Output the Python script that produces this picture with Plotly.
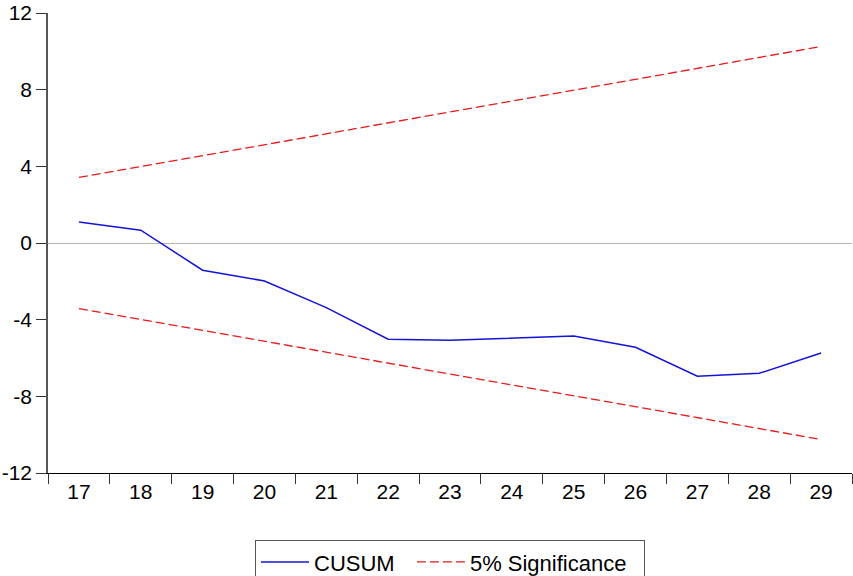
import plotly.graph_objects as go

periods = ["17", "18", "19", "20", "21", "22", "23", "24", "25", "26", "27", "28", "29"]
cusum = [1.10, 0.67, -1.42, -1.98, -3.37, -5.02, -5.07, -4.97, -4.85, -5.44, -6.95, -6.80, -5.74]
upper = [3.42, 3.99, 4.56, 5.13, 5.70, 6.27, 6.84, 7.40, 7.97, 8.54, 9.11, 9.68, 10.25]
lower = [-3.42, -3.99, -4.56, -5.13, -5.70, -6.27, -6.84, -7.40, -7.97, -8.54, -9.11, -9.68, -10.25]
y_ticks = [-12, -8, -4, 0, 4, 8, 12]
y_tick_labels = ["-12", "-8", "-4", "0", "4", "8", "12"]

fig = go.Figure()
fig.add_trace(go.Scatter(x=periods, y=cusum, mode="lines", name="CUSUM\u00a0\u00a0",
                         line=dict(color="#1414d8", width=1.5)))
fig.add_trace(go.Scatter(x=periods, y=upper, mode="lines", name="5%\u00a0Significance\u00a0\u00a0",
                         line=dict(color="#e8191c", width=1.3, dash="9px,4px")))
fig.add_trace(go.Scatter(x=periods, y=lower, mode="lines", name="5% Significance",
                         showlegend=False,
                         line=dict(color="#e8191c", width=1.3, dash="9px,4px")))

font = dict(family="Liberation Sans, Arial, sans-serif", size=21, color="black")
legend_font = dict(family="Liberation Sans, Arial, sans-serif", size=22, color="black")

fig.update_layout(
    width=853, height=576,
    margin=dict(l=48, r=1, t=13, b=103, autoexpand=False),
    paper_bgcolor="white", plot_bgcolor="white",
    font=font,
    showlegend=True,
    legend=dict(orientation="h", x=0.5, xanchor="center", y=-0.146, yanchor="top",
                bordercolor="#555555", borderwidth=1, font=legend_font,
                itemwidth=48, tracegroupgap=0),
    xaxis=dict(type="category", range=[-0.5, 12.5], tickson="boundaries",
               ticks="outside", ticklen=10, tickcolor="#333333", tickwidth=1,
               showline=True, linecolor="black", linewidth=1, automargin=False,
               showgrid=False, zeroline=False, tickfont=font),
    yaxis=dict(range=[-12, 12], tickvals=y_ticks, ticktext=y_tick_labels,
               ticks="outside", ticklen=10, automargin=False,
               tickcolor="#333333", tickwidth=1,
               showline=True, linecolor="#555555", linewidth=1.5,
               showgrid=False, zeroline=True, zerolinecolor="#b4b4b4", zerolinewidth=1,
               tickfont=font, ticklabelshift=0, ticklabeloverflow="allow"),
)

fig.write_html("out.html", config={"displayModeBar": False},
               post_script="document.body.style.margin='0';document.body.style.overflow='hidden';")
